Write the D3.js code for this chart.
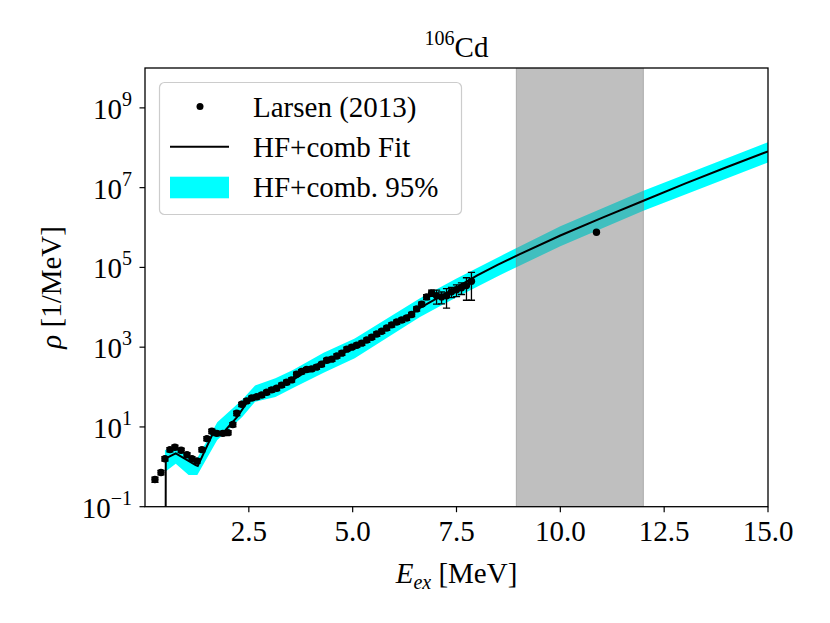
<!DOCTYPE html>
<html><head><meta charset="utf-8">
<script src="https://cdn.jsdelivr.net/npm/d3@7"></script>
<style>
body{margin:0;background:#fff;}
svg{font-family:"Liberation Serif","DejaVu Serif",serif;}
</style></head>
<body><svg id="c" width="830" height="623"></svg>
<script>
// Data: Larsen (2013) level density points
const dataE   = [0.24,0.385,0.48,0.60,0.72,0.87,1.01,1.13,1.25,1.37,1.49,1.61,1.73,1.875,2.0,2.115,2.21,2.33,2.45,2.57,2.69,2.81,2.93,3.05,3.17,3.29,3.41,3.53,3.65,3.77,3.89,4.01,4.13,4.25,4.375,4.5,4.62,4.74,4.86,4.98,5.1,5.22,5.34,5.46,5.58,5.70,5.82,5.94,6.06,6.18,6.30,6.42,6.54,6.66,6.78,6.90,7.02,7.14,7.26,7.38,7.5,7.62,7.74,7.86,10.87];
const dataRho = [0.48,0.72,1.6,2.7,3.1,2.6,2.0,1.6,1.4,2.7,5.1,7.8,6.9,6.9,7.2,11.5,22,37,45,53,57,63,74,85,93,112,132,151,210,245,275,285,316,372,468,501,603,708,891,1000,1120,1260,1510,1780,2140,2510,3020,3630,4270,4790,5370,6610,9120,12000,18200,22900,19500,18200,19500,24500,27500,30900,35000,45000,7.6e5];
const dataErr = [0.07,0.09,0.2,0.33,0.38,0.32,0.25,0.2,0.18,0.33,0.6,0.95,0.85,0.85,0.9,1.4,2.7,4.5,5.5,6.5,7,7.6,9,10,11,13,16,18,25,30,33,35,38,45,57,60,72,85,107,120,135,150,180,215,260,300,360,440,510,580,650,800,1100,1500,2500,4000,7500,6000,10000,7000,9000,10000,20000,30000,0];

// HF+comb fit line
const fitE   = [0.495,0.50,0.74,1.22,1.27,1.62,1.90,2.22,2.46,2.88,3.6,4.2,5.05,5.65,6.61,7.5,8.0,8.5,9.0,10.0,11.0,12.0,13.0,14.0,15.0];
const fitRho = [1e-3,1.62,2.16,1.10,1.05,6.3,7.5,17.8,42,70,160,400,960,2300,9550,31600,63100,117000,209000,631000,1.74e6,4.68e6,1.26e7,3.24e7,8.13e7];

// HF+comb 95% band
const bandE  = [0.48,0.74,1.05,1.26,1.74,2.34,2.65,3.14,3.55,4.3,5.05,6.61,7.5,8.53,10.0,12.0,15.0];
const bandLo = [0.74,1.2,0.62,0.62,4.7,17.8,42.7,56.2,93.3,229,525,5620,17800,63100,339000,2.63e6,4.27e7];
const bandHi = [2.63,3.0,1.78,1.66,13.2,47.9,110,166,263,724,1660,16600,52500,186000,1.07e6,8.32e6,1.38e8];

// Gray region
const spanE = [8.94, 12.0];

const xTicks = [2.5,5.0,7.5,10.0,12.5,15.0];
const yTicks = [1e-1,1e1,1e3,1e5,1e7,1e9];
const yExp   = ["\u22121","1","3","5","7","9"];

const svg = d3.select("#c");
const L=145, R=768, T=68, B=506.7;
const x = d3.scaleLinear().domain([0,15]).range([L,R]);
const y = d3.scaleLog().domain([1e-1,1e10]).range([B,T]);

svg.append("defs").append("clipPath").attr("id","clip")
  .append("rect").attr("x",L).attr("y",T).attr("width",R-L).attr("height",B-T);
const g = svg.append("g").attr("clip-path","url(#clip)");

// band
const band = bandE.map((e,i)=>({e,lo:bandLo[i],hi:bandHi[i]}));
g.append("path").datum(band)
  .attr("d", d3.area().x(d=>x(d.e)).y0(d=>y(d.lo)).y1(d=>y(d.hi)))
  .attr("fill","#00ffff");

// gray span
g.append("rect").attr("x",x(spanE[0])).attr("width",x(spanE[1])-x(spanE[0]))
  .attr("y",T-2).attr("height",B-T+4)
  .attr("fill","#808080").attr("fill-opacity",0.5)
  .attr("stroke","#808080").attr("stroke-opacity",0.5).attr("stroke-width",1);

// fit line
const fit = fitE.map((e,i)=>({e,r:fitRho[i]}));
g.append("path").datum(fit)
  .attr("d", d3.line().x(d=>x(d.e)).y(d=>y(Math.max(d.r,1e-3))))
  .attr("fill","none").attr("stroke","#000").attr("stroke-width",2);

// data with error bars
const pts = dataE.map((e,i)=>({e,r:dataRho[i],err:dataErr[i]}));
const eg = g.append("g").attr("stroke","#000").attr("stroke-width",1.3);
pts.filter(d=>d.err>0).forEach(d=>{
  const y0=y(Math.max(d.r-d.err,1e-3)), y1=y(d.r+d.err), cx=x(d.e);
  eg.append("line").attr("x1",cx).attr("x2",cx).attr("y1",y0).attr("y2",y1);
  eg.append("line").attr("x1",cx-3.6).attr("x2",cx+3.6).attr("y1",y0).attr("y2",y0);
  eg.append("line").attr("x1",cx-3.6).attr("x2",cx+3.6).attr("y1",y1).attr("y2",y1);
});
g.append("g").selectAll("circle").data(pts).join("circle")
  .attr("cx",d=>x(d.e)).attr("cy",d=>y(d.r)).attr("r",3.7).attr("fill","#000");

// axes frame
svg.append("rect").attr("x",L).attr("y",T).attr("width",R-L).attr("height",B-T)
  .attr("fill","none").attr("stroke","#000").attr("stroke-width",1.3);

// x ticks
const xa = svg.append("g");
xTicks.forEach(t=>{
  xa.append("line").attr("x1",x(t)).attr("x2",x(t)).attr("y1",B).attr("y2",B+5.5).attr("stroke","#000").attr("stroke-width",1.2);
  xa.append("text").attr("x",x(t)).attr("y",B+34.5).attr("text-anchor","middle")
    .attr("font-size",29).text(t.toFixed(1));
});
// y ticks
const ya = svg.append("g");
yTicks.forEach((t,i)=>{
  ya.append("line").attr("x1",L).attr("x2",L-5.5).attr("y1",y(t)).attr("y2",y(t)).attr("stroke","#000").attr("stroke-width",1.2);
  const tx = ya.append("text").attr("x",132).attr("y",y(t)+11).attr("text-anchor","end").attr("font-size",29);
  tx.append("tspan").text("10");
  tx.append("tspan").attr("dy",-13).attr("font-size",20).text(yExp[i]);
});

// title
const tt = svg.append("text").attr("x",(L+R)/2).attr("y",57).attr("text-anchor","middle").attr("font-size",29);
tt.append("tspan").attr("font-size",20).attr("dy",-12).text("106");
tt.append("tspan").attr("dy",12).text("Cd");

// x label
const xl = svg.append("text").attr("x",(L+R)/2).attr("y",583).attr("text-anchor","middle").attr("font-size",29);
xl.append("tspan").attr("font-style","italic").text("E");
xl.append("tspan").attr("font-style","italic").attr("font-size",20).attr("dy",6).text("ex");
xl.append("tspan").attr("dy",-6).text(" [MeV]");

// y label
svg.append("text").attr("transform",`translate(61,${(T+B)/2}) rotate(-90)`)
  .attr("text-anchor","middle").attr("font-size",29)
  .call(s=>{ s.append("tspan").attr("font-style","italic").text("\u03C1"); s.append("tspan").text(" [1/MeV]"); });

// legend
const lg = svg.append("g");
lg.append("rect").attr("x",159.5).attr("y",82.5).attr("width",302).attr("height",132).attr("rx",5)
  .attr("fill","#fff").attr("fill-opacity",0.8).attr("stroke","#cccccc").attr("stroke-width",1.2);
lg.append("circle").attr("cx",200).attr("cy",106.5).attr("r",3.5).attr("fill","#000");
lg.append("line").attr("x1",170).attr("x2",229).attr("y1",146.7).attr("y2",146.7).attr("stroke","#000").attr("stroke-width",2);
lg.append("rect").attr("x",170).attr("y",176.7).attr("width",59).attr("height",21.6).attr("fill","#00ffff");
const labels = ["Larsen (2013)","HF+comb Fit","HF+comb. 95%"];
const baseY = [116.7,157.2,196.7];
labels.forEach((s,i)=>lg.append("text").attr("x",253).attr("y",baseY[i]).attr("font-size",29).text(s));
</script></body></html>
